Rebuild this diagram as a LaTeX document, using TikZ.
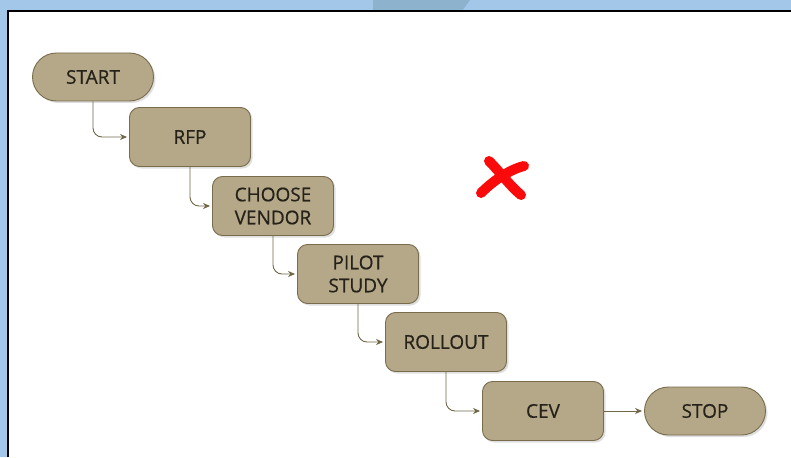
\documentclass[tikz,border=0pt]{standalone}
\usepackage{fontspec}
\setmainfont{Open Sans}
\usetikzlibrary{shadows,arrows.meta}

\definecolor{skyblue}{RGB}{162,199,232}
\definecolor{glassblue}{RGB}{140,178,206}
\definecolor{boxfill}{RGB}{180,168,136}
\definecolor{boxline}{RGB}{120,108,76}
\definecolor{boxtext}{RGB}{38,34,26}
\definecolor{flowline}{RGB}{112,102,72}
\definecolor{crossred}{RGB}{250,10,10}

\tikzset{
	stagebox/.style={draw=boxline, fill=boxfill, text=boxtext, line width=0.9pt, shape=rectangle, rounded corners=10pt,
		minimum width=121pt, minimum height=59pt, align=center, font=\fontsize{19}{23}\selectfont\addfontfeatures{FakeBold=0.6},
		drop shadow={opacity=0.25, shadow xshift=2pt, shadow yshift=-2pt}},
	endbox/.style={stagebox, rounded corners=24pt, minimum height=48pt},
	flow/.style={draw=flowline, line width=0.9pt, rounded corners=9pt, -{Stealth[length=7pt, width=6pt]}, shorten >=2pt}
}

\begin{document}
\begin{tikzpicture}[x=1pt, y=-1pt]
	\useasboundingbox (0,0) rectangle (791,457);
	\fill[skyblue] (0,0) rectangle (791,457);
	\fill[glassblue] (373,0) -- (470,0) -- (462,11) -- (373,11) -- cycle;
	\fill[white] (8,11) rectangle (791,457);
	\draw[black, line width=1.5pt] (8,457) -- (8,11) -- (791,11);

	\node[endbox] (start) at (93,77) {START};
	\node[stagebox] (rfp) at (190,137) {RFP};
	\node[stagebox] (vendor) at (273,206) {CHOOSE\\VENDOR};
	\node[stagebox] (pilot) at (358,274) {PILOT\\STUDY};
	\node[stagebox] (rollout) at (446,342) {ROLLOUT};
	\node[stagebox] (cev) at (543,411) {CEV};
	\node[endbox] (stop) at (705,411) {STOP};

	\draw[flow] (start.south) |- (rfp.west);
	\draw[flow] (rfp.south) |- (vendor.west);
	\draw[flow] (vendor.south) |- (pilot.west);
	\draw[flow] (pilot.south) |- (rollout.west);
	\draw[flow] (rollout.south) |- (cev.west);
	\draw[flow] (cev.east) -- (stop.west);

	% red cross
	\draw[crossred, line width=10pt, line cap=round] (489,161) .. controls (500,172) and (510,186) .. (521,195);
	\draw[crossred, line width=10pt, line cap=round] (524,166) .. controls (508,170) and (492,182) .. (481,193);
\end{tikzpicture}
\end{document}
